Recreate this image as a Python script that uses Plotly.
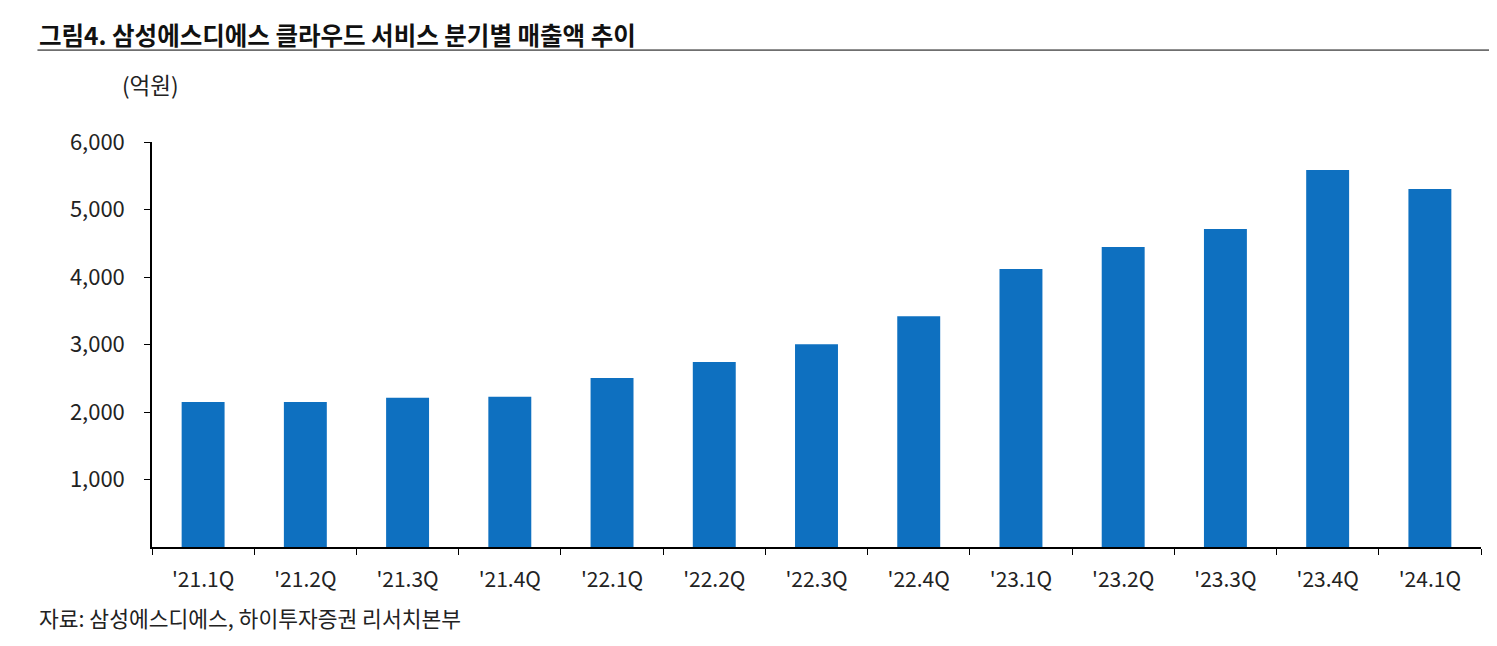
"""Samsung SDS cloud service quarterly revenue bar chart."""

import plotly.graph_objects as go

# Data (억원)
quarters = ["'21.1Q", "'21.2Q", "'21.3Q", "'21.4Q", "'22.1Q", "'22.2Q", "'22.3Q",
            "'22.4Q", "'23.1Q", "'23.2Q", "'23.3Q", "'23.4Q", "'24.1Q"]
revenue = [2150, 2150, 2210, 2225, 2505, 2740, 3005, 3420, 4120, 4445, 4710, 5585, 5305]
y_ticks = [1000, 2000, 3000, 4000, 5000, 6000]
y_tick_labels = ['1,000', '2,000', '3,000', '4,000', '5,000', '6,000']

FONT = 'Noto Sans CJK KR'
BAR_COLOR = '#0E70C0'
TEXT = '#222222'

fig = go.Figure()
fig.add_trace(go.Bar(
    x=quarters,
    y=revenue,
    marker_color=BAR_COLOR,
    marker_line_width=0,
    hovertemplate='%{x}<br>%{y:,}억원<extra></extra>'
))

# page body has an 8px margin, so the figure is shrunk by that much
fig.update_layout(
    width=1489,
    height=638,
    margin=dict(l=144, r=16, t=134, b=99),
    paper_bgcolor='white',
    plot_bgcolor='white',
    showlegend=False,
    bargap=0.58,
    font=dict(family=FONT, size=21, color=TEXT),
)

fig.update_xaxes(
    showline=True, linecolor='black', linewidth=2,
    ticks='outside', tickson='boundaries', ticklen=6, tickcolor='black',
    tickfont=dict(size=21, color=TEXT), ticklabelstandoff=13,
    showgrid=False, zeroline=False,
)
fig.update_yaxes(
    range=[0, 6000],
    tickvals=y_ticks, ticktext=y_tick_labels,
    showline=True, linecolor='black', linewidth=1.5,
    ticks='outside', ticklen=6, tickcolor='black',
    tickfont=dict(size=22, color=TEXT), ticklabelstandoff=15,
    showgrid=False, zeroline=False,
)

# Title, underline, unit label and source
fig.add_annotation(
    text='<b>그림4. 삼성에스디에스 클라우드 서비스 분기별 매출액 추이</b>',
    xref='paper', yref='paper', x=-0.0862, y=1.265,
    xanchor='left', yanchor='middle', showarrow=False,
    font=dict(size=24.5, color='#111111', family=FONT)
)
fig.add_shape(
    type='line', xref='paper', yref='paper',
    x0=-0.0862, x1=1.015, y0=1.227, y1=1.227,
    line=dict(color='black', width=1)
)
fig.add_annotation(
    text='(억원)', xref='paper', yref='paper', x=-0.0015, y=1.143,
    xanchor='center', yanchor='middle', showarrow=False,
    font=dict(size=22.5, color=TEXT, family=FONT)
)
fig.add_annotation(
    text='자료: 삼성에스디에스, 하이투자증권 리서치본부',
    xref='paper', yref='paper', x=-0.0862, y=-0.173,
    xanchor='left', yanchor='middle', showarrow=False,
    font=dict(size=21.5, color=TEXT, family=FONT)
)

fig.write_html("out.html")
